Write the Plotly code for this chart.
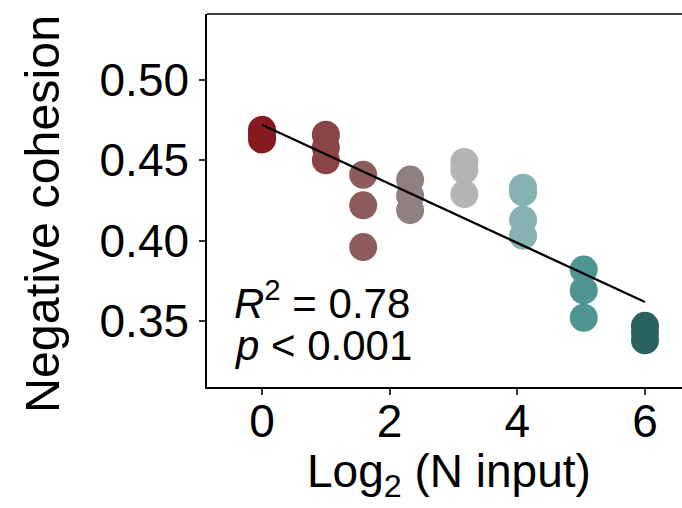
import numpy as np
import plotly.graph_objects as go

# Data
log2_n = [0.0, 1.0, 1.585, 2.32, 3.17, 4.09, 5.04, 6.0]
cohesion = [
    [0.469, 0.466, 0.463],
    [0.466, 0.458, 0.450],
    [0.441, 0.422, 0.396],
    [0.438, 0.428, 0.419],
    [0.449, 0.444, 0.429],
    [0.433, 0.430, 0.413, 0.403],
    [0.382, 0.369, 0.352],
    [0.347, 0.343, 0.338],
]
group_colors = ["#861B1F", "#8B4446", "#8E5D5B", "#918080",
                "#B4B4B4", "#87B2B2", "#4F9591", "#2A625F"]
x_ticks = [0, 2, 4, 6]
y_ticks = [0.35, 0.40, 0.45, 0.50]

xs, ys, cs = [], [], []
for xv, vals, c in zip(log2_n, cohesion, group_colors):
    for v in vals:
        xs.append(xv)
        ys.append(v)
        cs.append(c)
xs = np.array(xs)
ys = np.array(ys)

slope, intercept = np.polyfit(xs, ys, 1)
xl = np.array([min(log2_n), max(log2_n)])
yl = intercept + slope * xl

FONT = "Liberation Sans, Arial, sans-serif"

fig = go.Figure()
fig.add_trace(go.Scatter(
    x=xs, y=ys, mode="markers",
    marker=dict(size=28, color=cs, line=dict(width=0), opacity=1),
    showlegend=False, hoverinfo="skip"))
fig.add_trace(go.Scatter(
    x=xl, y=yl, mode="lines",
    line=dict(color="black", width=2.3),
    showlegend=False, hoverinfo="skip"))

fig.update_layout(
    width=682, height=508,
    margin=dict(l=207, r=0, t=14, b=121),
    plot_bgcolor="white", paper_bgcolor="white",
    font=dict(family=FONT, color="black"),
    xaxis=dict(range=[-0.862, 6.58], tickvals=x_ticks, ticktext=[str(t) for t in x_ticks],
               showgrid=False, zeroline=False, showline=True, linecolor="black", linewidth=1.5,
               ticks="outside", ticklen=6, tickwidth=1.5, tickcolor="#333333",
               tickfont=dict(size=46, family=FONT, color="black"), ticklabelstandoff=-13),
    yaxis=dict(range=[0.3089, 0.5411], tickvals=y_ticks, ticktext=["%.2f" % t for t in y_ticks],
               showgrid=False, zeroline=False, showline=True, linecolor="black", linewidth=1.5,
               ticks="outside", ticklen=6, tickwidth=1.5, tickcolor="#333333",
               tickfont=dict(size=46, family=FONT, color="black"), ticklabelstandoff=1),
    shapes=[dict(type="line", xref="paper", yref="paper", x0=0, x1=1, y0=1, y1=1,
                 line=dict(color="black", width=1.5))],
    annotations=[
        dict(text="Log<sub>2</sub> (N input)", xref="paper", yref="paper",
             x=(449 - 207) / 475, y=-(474 - 387) / 373, xanchor="center", yanchor="middle",
             showarrow=False, font=dict(size=46, family=FONT, color="black")),
        dict(text="Negative cohesion", xref="paper", yref="paper", textangle=-90,
             x=-(207 - 42) / 475, y=(387 - 214) / 373, xanchor="center", yanchor="middle",
             showarrow=False, font=dict(size=48.4, family=FONT, color="black")),
        dict(text="<i>R</i><sup>2</sup> = 0.78", xref="paper", yref="paper",
             x=(232 - 207) / 475, y=(387 - 300) / 373, xanchor="left", yanchor="middle",
             showarrow=False, font=dict(size=42, family=FONT, color="black")),
        dict(text="<i>p</i> &lt; 0.001", xref="paper", yref="paper",
             x=(232 - 207) / 475, y=(387 - 345) / 373, xanchor="left", yanchor="middle",
             showarrow=False, font=dict(size=42, family=FONT, color="black")),
    ],
)

fig.write_html("out.html")
